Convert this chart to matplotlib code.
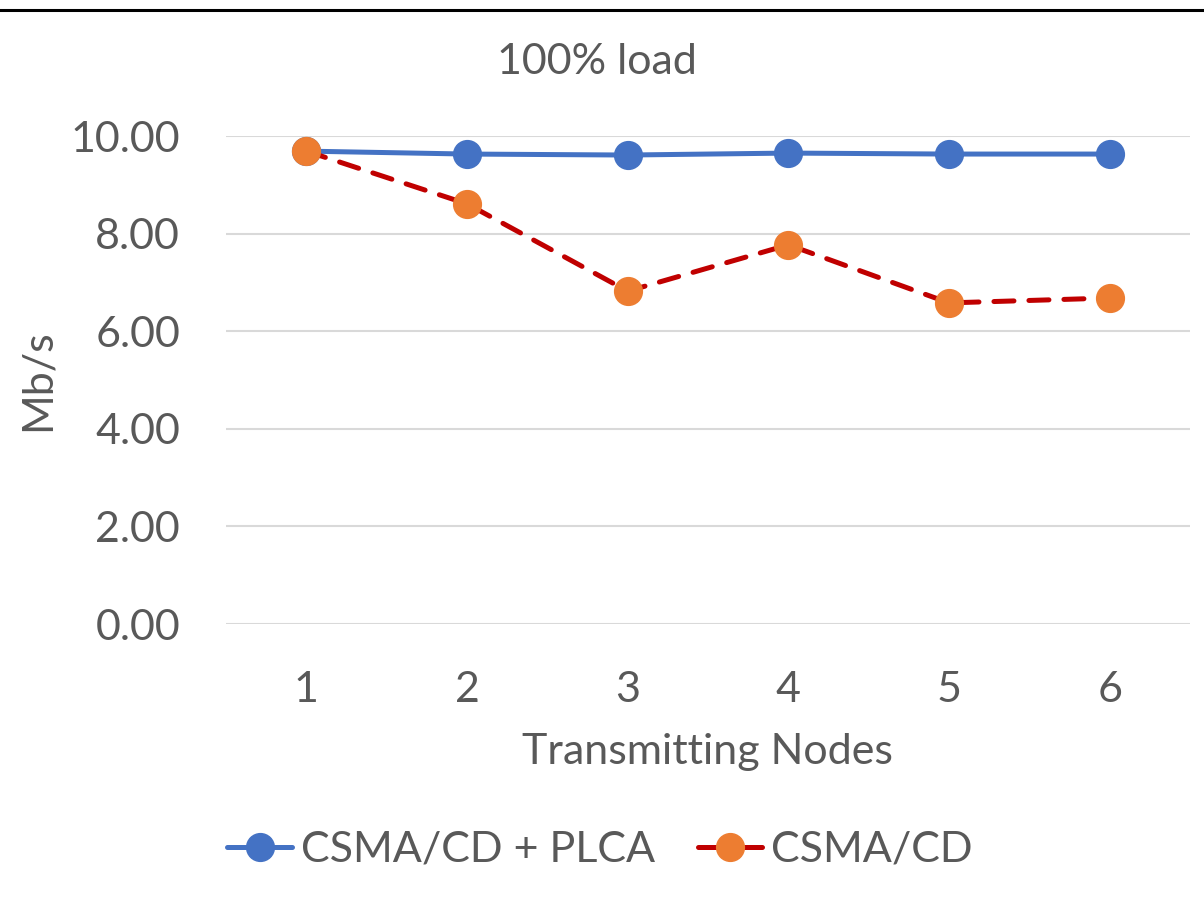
import matplotlib
matplotlib.use("Agg")
import matplotlib.pyplot as plt
from matplotlib.lines import Line2D

nodes = [1, 2, 3, 4, 5, 6]
plca = [9.69, 9.63, 9.61, 9.65, 9.63, 9.63]
csma = [9.69, 8.61, 6.82, 7.77, 6.58, 6.68]
yticks = [0, 2, 4, 6, 8, 10]
labels = ["CSMA/CD + PLCA", "CSMA/CD"]

plt.rcParams["font.family"] = ["Lato", "DejaVu Sans"]
gray = "#595959"
blue, orange, red = "#4472C4", "#ED7D31", "#C00000"
fs = 31

fig = plt.figure(figsize=(12.04, 8.98), dpi=100)
W, H = 1204, 898
ax = fig.add_axes([226 / W, 1 - 624 / H, (1190 - 226) / W, 488 / H])

ax.plot(nodes, plca, color=blue, lw=3.6, marker="o", ms=20,
        mfc=blue, mec=blue, zorder=3)
ax.plot(nodes, csma, color=red, lw=3.6, ls=(0, (4, 3)),
        dash_capstyle="round", marker="o", ms=20,
        mfc=orange, mec=orange, zorder=4)

ax.set_xlim(0.5, 6.5)
ax.set_ylim(0, 10)
ax.set_xticks(nodes)
ax.set_yticks(yticks)
ax.set_yticklabels(["%.2f" % v for v in yticks])
ax.grid(axis="y", color="#D9D9D9", lw=1.5)
ax.set_axisbelow(True)
for s in ax.spines.values():
    s.set_visible(False)
ax.tick_params(length=0, labelsize=fs, labelcolor=gray)
ax.tick_params(axis="y", pad=33)
ax.tick_params(axis="x", pad=34)

fig.text(597 / W, 1 - 62 / H, "100% load", ha="center", va="center",
         fontsize=fs, color=gray)
fig.text(707 / W, 1 - 752 / H, "Transmitting Nodes", ha="center", va="center",
         fontsize=fs, color=gray)
fig.text(38 / W, 1 - 380 / H, "Mb/s", ha="center", va="center",
         rotation=90, fontsize=fs, color=gray)

# legend handles: short segments look solid in the original
handles = [
    Line2D([], [], color=blue, lw=3.6, solid_capstyle="round", marker="o",
           ms=20, mfc=blue, mec=blue),
    Line2D([], [], color=red, lw=3.6, solid_capstyle="round", marker="o",
           ms=20, mfc=orange, mec=orange),
]
fig.legend(handles, labels, loc="center", bbox_to_anchor=(600 / W, 1 - 850 / H),
           ncol=2, frameon=False, fontsize=fs, labelcolor=gray,
           handlelength=1.5, handletextpad=0.2, columnspacing=1.0)

fig.add_artist(Line2D([0, 1], [1 - 10 / H, 1 - 10 / H], color="black", lw=2.2,
                      transform=fig.transFigure))

fig.savefig("out.png", dpi=100)
